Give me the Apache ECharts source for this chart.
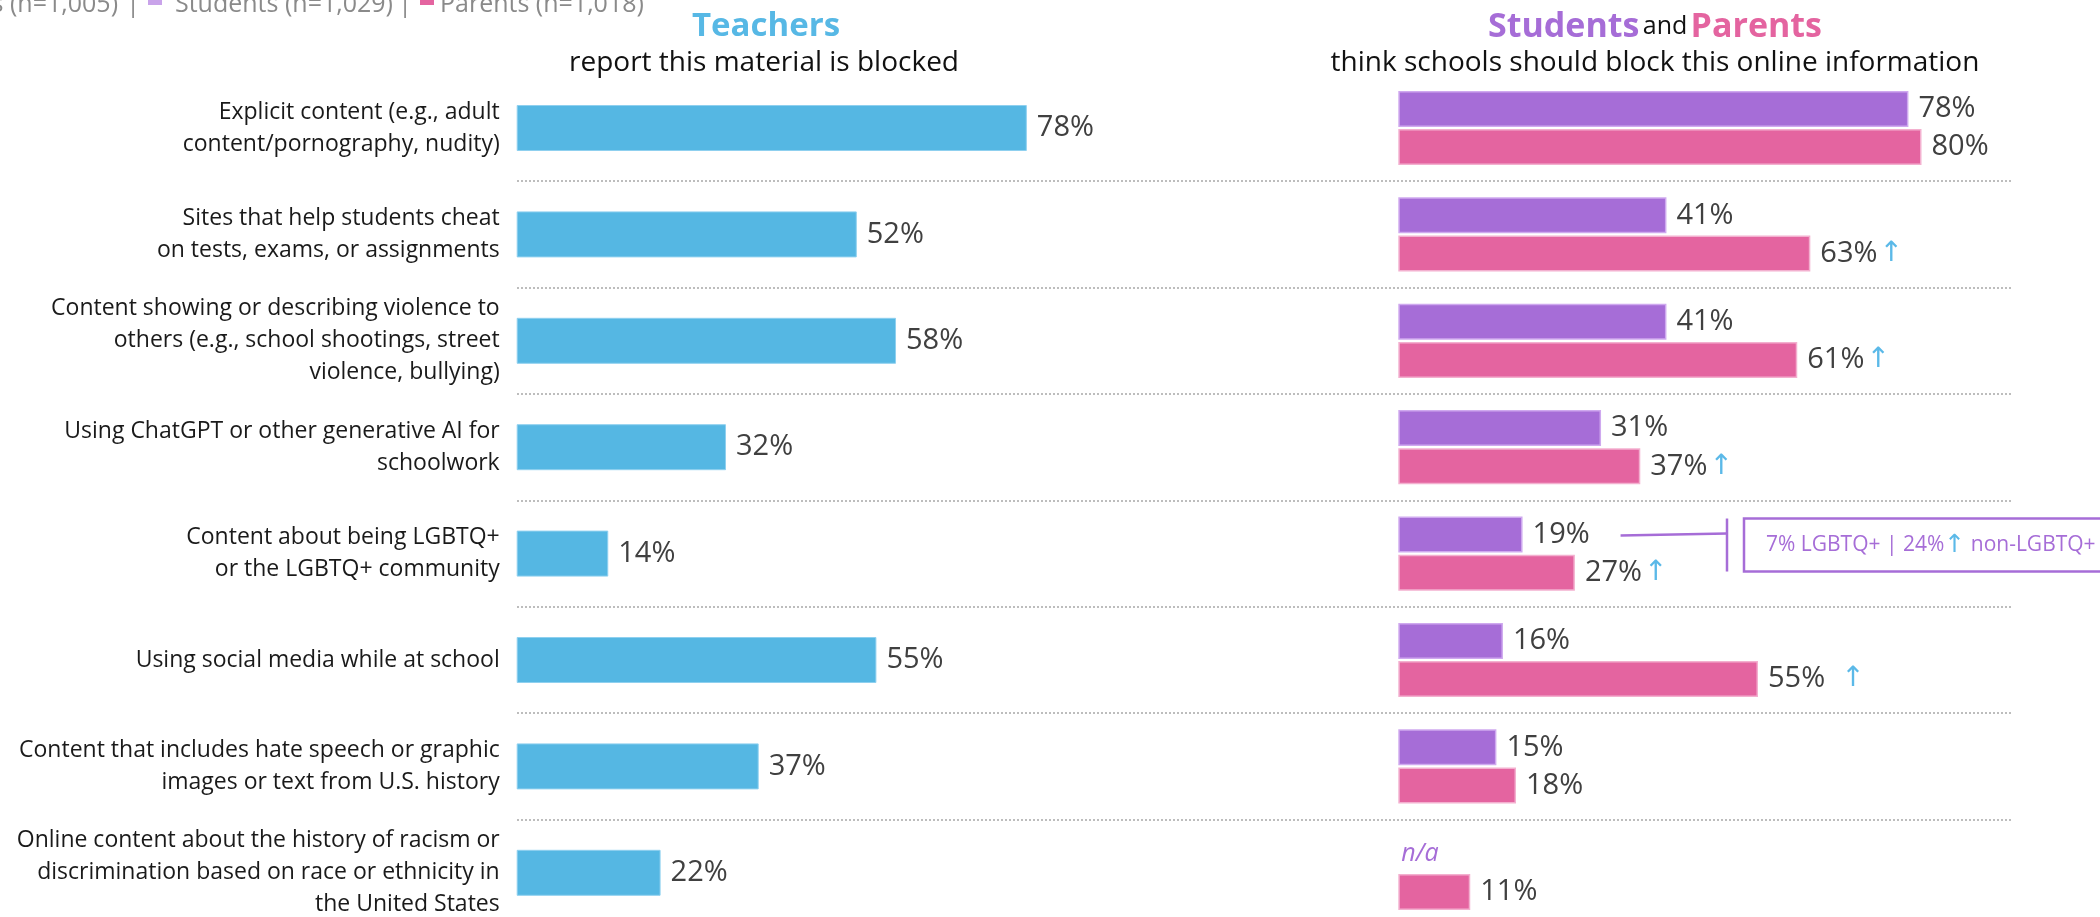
<!DOCTYPE html>
<html>
<head>
<meta charset="utf-8">
<script src="https://cdn.jsdelivr.net/npm/echarts@6/dist/echarts.min.js"></script>
<style>
  html, body { margin: 0; padding: 0; background: #ffffff; }
  #chart { width: 2100px; height: 917px; }
</style>
</head>
<body>
<div id="chart"></div>
<script>
// Survey items (one row each)
const categories = [
  'Explicit content (e.g., adult\ncontent/pornography, nudity)',
  'Sites that help students cheat\non tests, exams, or assignments',
  'Content showing or describing violence to\nothers (e.g., school shootings, street\nviolence, bullying)',
  'Using ChatGPT or other generative AI for\nschoolwork',
  'Content about being LGBTQ+\nor the LGBTQ+ community',
  'Using social media while at school',
  'Content that includes hate speech or graphic\nimages or text from U.S. history',
  'Online content about the history of racism or\ndiscrimination based on race or ethnicity in\nthe United States'
];

// Percent of teachers reporting the material is blocked
const teacherValues = [78, 52, 58, 32, 14, 55, 37, 22];
// Percent who think schools should block it (null = not asked)
const studentValues = [78, 41, 41, 31, 19, 16, 15, null];
const parentValues  = [80, 63, 61, 37, 27, 55, 18, 11];
// Parent results marked as significantly higher
const parentUp = [false, true, true, true, true, true, false, false];

const legendTexts = ['Teachers (n=1,005)', 'Students (n=1,029)', 'Parents (n=1,018)'];
const lgbtqNote = ['7% LGBTQ+ | 24%', '↑', ' non-LGBTQ+'];

const BLUE = '#55b7e3';
const PURPLE = '#a66dd7';
const PINK = '#e464a0';
const ARROW = '#5bb9e8';
const LABEL = '#404040';
const FONT = '"Open Sans", Lato, sans-serif';

const ROW_TOP = 74.8;
const ROW_H = 106.4;
const PX_PER_PCT = 6.54;
const PAIR_BAR = 36;
const PAIR_GAP = '6%';
const VALUE_SIZE = 29;

const chart = echarts.init(document.getElementById('chart'), null, { renderer: 'canvas' });

function valueLabel(extra) {
  return Object.assign({
    show: true,
    position: 'right',
    distance: 10,
    color: LABEL,
    fontFamily: FONT,
    fontSize: VALUE_SIZE,
    formatter: p => p.value + '%'
  }, extra || {});
}

const studentData = studentValues.map(v => v === null
  ? {
      value: 0,
      itemStyle: { color: 'transparent', borderWidth: 0 },
      label: { formatter: 'n/a', color: PURPLE, fontStyle: 'italic', fontSize: 25, distance: 3 }
    }
  : v);

const gridBase = { top: ROW_TOP, height: ROW_H * 8, outerBoundsMode: 'none', containLabel: false };

const option = {
  animation: false,
  backgroundColor: '#ffffff',
  grid: [
    Object.assign({ left: 516.7, width: 100 * PX_PER_PCT }, gridBase),
    Object.assign({ left: 1398.3, width: 100 * PX_PER_PCT }, gridBase),
    Object.assign({ left: 517, width: 1496 }, gridBase)
  ],
  xAxis: [
    { gridIndex: 0, type: 'value', min: 0, max: 100, show: false },
    { gridIndex: 1, type: 'value', min: 0, max: 100, show: false },
    { gridIndex: 2, type: 'value', min: 0, max: 1, show: false }
  ],
  yAxis: [
    {
      gridIndex: 0, type: 'category', data: categories, inverse: true,
      axisLine: { show: false }, axisTick: { show: false }, splitLine: { show: false },
      axisLabel: {
        margin: 17, color: '#1a1a1a', fontFamily: FONT, fontSize: 23,
        lineHeight: 32, align: 'right'
      }
    },
    {
      gridIndex: 1, type: 'category', data: categories, inverse: true,
      axisLine: { show: false }, axisTick: { show: false }, splitLine: { show: false },
      axisLabel: { show: false }
    },
    {
      // row separators across both panels
      gridIndex: 2, type: 'value', min: 0, max: 8, interval: 1, inverse: true,
      axisLine: { show: false }, axisTick: { show: false }, axisLabel: { show: false },
      splitLine: {
        show: true, showMinLine: false, showMaxLine: false,
        lineStyle: { color: '#bdbdbd', width: 2, type: [2, 2] }
      }
    }
  ],
  series: [
    {
      name: 'Teachers', type: 'bar', xAxisIndex: 0, yAxisIndex: 0,
      data: teacherValues, barWidth: 46,
      itemStyle: { color: BLUE, borderColor: '#8fd0ef', borderWidth: 1 },
      label: valueLabel()
    },
    {
      name: 'Students', type: 'bar', xAxisIndex: 1, yAxisIndex: 1,
      data: studentData, barWidth: PAIR_BAR, barGap: PAIR_GAP,
      itemStyle: { color: PURPLE, borderColor: '#cfa9ef', borderWidth: 1.5 },
      label: valueLabel()
    },
    {
      name: 'Parents', type: 'bar', xAxisIndex: 1, yAxisIndex: 1,
      data: parentValues, barWidth: PAIR_BAR, barGap: PAIR_GAP,
      itemStyle: { color: PINK, borderColor: '#f3b0cf', borderWidth: 1.5 },
      label: valueLabel({
        formatter: p => {
          if (!parentUp[p.dataIndex]) return '{v|' + p.value + '%}';
          const gap = p.dataIndex === 5 ? 'aw' : 'a';
          return '{v|' + p.value + '%}{' + gap + '|↑}';
        },
        rich: {
          v: { color: LABEL, fontFamily: FONT, fontSize: VALUE_SIZE },
          a: { color: ARROW, fontFamily: '"DejaVu Sans"', fontSize: 28, padding: [0, 0, 0, 2] },
          aw: { color: ARROW, fontFamily: '"DejaVu Sans"', fontSize: 28, padding: [0, 0, 0, 16] }
        }
      })
    },
    {
      type: 'scatter', xAxisIndex: 2, yAxisIndex: 2, data: [], silent: true
    }
  ],
  graphic: [
    // legend strip along the top edge
    { type: 'text', x: 118, y: 5, style: { text: legendTexts[0], fill: '#8a8a8a', font: '25px ' + FONT, textAlign: 'right', textVerticalAlign: 'middle' } },
    { type: 'text', x: 133, y: 5, style: { text: '|', fill: '#8a8a8a', font: '25px ' + FONT, textAlign: 'center', textVerticalAlign: 'middle' } },
    { type: 'rect', shape: { x: 148, y: -9, width: 14, height: 14 }, style: { fill: '#c9a3ea' } },
    { type: 'text', x: 175, y: 5, style: { text: legendTexts[1], fill: '#8a8a8a', font: '25px ' + FONT, textAlign: 'left', textVerticalAlign: 'middle' } },
    { type: 'text', x: 405, y: 5, style: { text: '|', fill: '#8a8a8a', font: '25px ' + FONT, textAlign: 'center', textVerticalAlign: 'middle' } },
    { type: 'rect', shape: { x: 420, y: -9, width: 14, height: 14 }, style: { fill: PINK } },
    { type: 'text', x: 440, y: 5, style: { text: legendTexts[2], fill: '#8a8a8a', font: '25px ' + FONT, textAlign: 'left', textVerticalAlign: 'middle' } },

    // panel headings
    { type: 'text', x: 766, y: 27, style: { text: 'Teachers', fill: '#57b8e5', font: 'bold 33px ' + FONT, textAlign: 'center', textVerticalAlign: 'middle' } },
    { type: 'text', x: 764, y: 63, style: { text: 'report this material is blocked', fill: '#111111', font: '28px ' + FONT, textAlign: 'center', textVerticalAlign: 'middle' } },
    {
      type: 'text', x: 1655, y: 27,
      style: {
        text: '{s|Students} {n|and} {p|Parents}',
        textAlign: 'center', textVerticalAlign: 'middle',
        rich: {
          s: { fill: PURPLE, font: 'bold 34px ' + FONT },
          n: { fill: '#111111', font: '25px ' + FONT },
          p: { fill: PINK, font: 'bold 34px ' + FONT }
        }
      }
    },
    { type: 'text', x: 1655, y: 63, style: { text: 'think schools should block this online information', fill: '#111111', font: '28px ' + FONT, textAlign: 'center', textVerticalAlign: 'middle' } }
  ]
};

chart.setOption(option);

// Callout linking the students' LGBTQ+ result to its breakdown
(function addCallout() {
  const row = 4;
  const rowCenter = chart.convertToPixel({ yAxisIndex: 1 }, row);
  const barY = rowCenter - (PAIR_BAR + PAIR_BAR * 0.06) / 2;
  const xEnd = chart.convertToPixel({ xAxisIndex: 1 }, studentValues[row]);
  const lineStart = xEnd + 98;
  const tick = 1727;
  const boxLeft = 1744;
  const boxTop = barY - 16;
  const boxH = 53;
  chart.setOption({
    graphic: option.graphic.concat([
      { type: 'line', shape: { x1: lineStart, y1: barY + 1, x2: tick, y2: barY - 1 }, style: { stroke: PURPLE, lineWidth: 2.5 } },
      { type: 'line', shape: { x1: tick, y1: boxTop, x2: tick, y2: boxTop + boxH }, style: { stroke: PURPLE, lineWidth: 2.5 } },
      { type: 'rect', shape: { x: boxLeft, y: boxTop, width: 420, height: boxH }, style: { fill: 'none', stroke: PURPLE, lineWidth: 2.5 } },
      {
        type: 'text', x: 1766, y: boxTop + boxH / 2,
        style: {
          text: '{t|' + lgbtqNote[0] + '}{a|' + lgbtqNote[1] + '}{t|' + lgbtqNote[2] + '}',
          textAlign: 'left', textVerticalAlign: 'middle',
          rich: {
            t: { fill: PURPLE, font: '21px ' + FONT },
            a: { fill: ARROW, font: '25px "DejaVu Sans"' }
          }
        }
      }
    ])
  });
})();
</script>
</body>
</html>
